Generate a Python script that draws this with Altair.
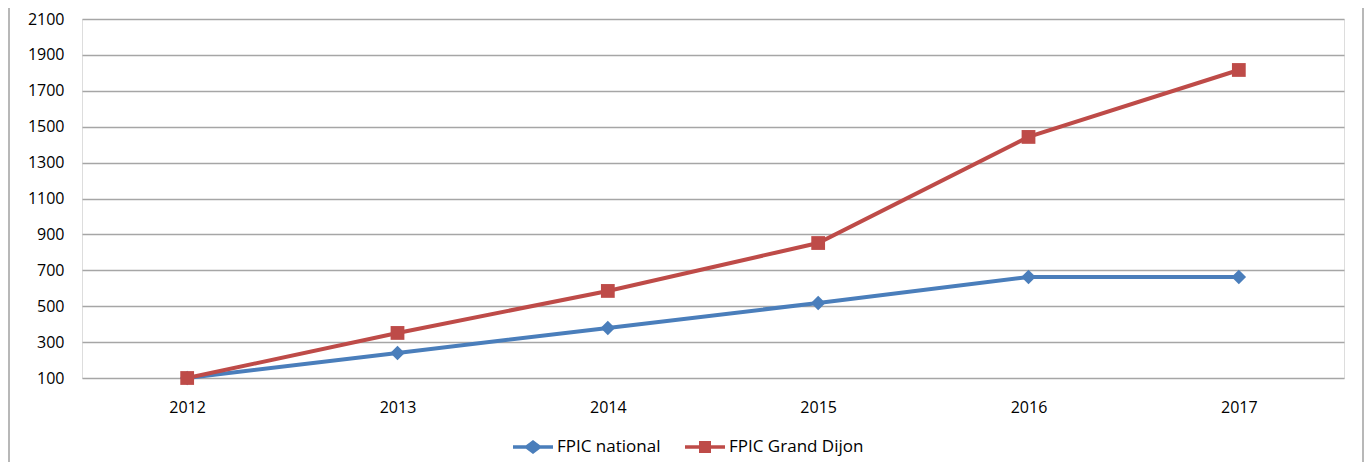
import altair as alt
import pandas as pd

years = ["2012", "2013", "2014", "2015", "2016", "2017"]
national = [100, 239, 379, 518, 663, 663]
grand_dijon = [100, 351, 585, 852, 1443, 1816]
series_names = ["FPIC national", "FPIC Grand Dijon"]
y_ticks = [100, 300, 500, 700, 900, 1100, 1300, 1500, 1700, 1900, 2100]
colors = ["#4A7EBB", "#BE4B48"]

rows = []
for y, v in zip(years, national):
    rows.append({"year": y, "value": v, "series": series_names[0]})
for y, v in zip(years, grand_dijon):
    rows.append({"year": y, "value": v, "series": series_names[1]})
df = pd.DataFrame(rows)

FONT = "Open Sans"
FS = 16
W, H = 1262, 359

x_enc = alt.X("year:O", sort=years, scale=alt.Scale(padding=0.5),
              axis=alt.Axis(title=None, labelAngle=0, domain=False, ticks=False,
                            labelPadding=21, labelFontSize=FS, labelFont=FONT,
                            labelColor="#000000"))
y_enc = alt.Y("value:Q", scale=alt.Scale(domain=[100, 2100], nice=False, zero=False),
              axis=alt.Axis(title=None, values=y_ticks, format="d", domain=False, ticks=False,
                            grid=True, gridColor="#A6A6A6", gridWidth=1.5,
                            labelPadding=18, labelFontSize=FS, labelFont=FONT,
                            labelColor="#000000"))

path_nat = "M-1,-0.09 L-0.35,-0.09 L0,-0.35 L0.35,-0.09 L1,-0.09 L1,0.09 L0.35,0.09 L0,0.35 L-0.35,0.09 L-1,0.09 Z"
path_gd = "M-1,-0.09 L-0.3,-0.09 L-0.3,-0.3 L0.3,-0.3 L0.3,-0.09 L1,-0.09 L1,0.09 L0.3,0.09 L0.3,0.3 L-0.3,0.3 L-0.3,0.09 L-1,0.09 Z"

def cscale():
    return alt.Scale(domain=series_names, range=colors)

lines = alt.Chart(df).mark_line(strokeWidth=4).encode(
    x=x_enc, y=y_enc,
    color=alt.Color("series:N", scale=cscale(), legend=None),
)

points = alt.Chart(df).transform_calculate(
    shp="datum.series == 'FPIC national' ? 'diamond' : 'square'",
    sz="datum.series == 'FPIC national' ? 210 : 190",
).mark_point(filled=True, opacity=1).encode(
    x=x_enc, y=y_enc,
    color=alt.Color("series:N", scale=cscale(), legend=None),
    shape=alt.Shape("shp:N", scale=None),
    size=alt.Size("sz:Q", scale=None),
)

leg = alt.Legend(
    title=None, orient="none", legendX=431, legendY=408,
    direction="horizontal", labelFont=FONT, labelFontSize=17,
    labelColor="#000000", symbolSize=1600, symbolStrokeWidth=0,
    labelOffset=4, columnPadding=24, padding=0)

legend_layer = alt.Chart(df).transform_filter("false").mark_point(filled=True, opacity=1).encode(
    x=x_enc, y=y_enc,
    color=alt.Color("series:N", scale=cscale(), legend=leg),
    shape=alt.Shape("series:N", scale=alt.Scale(domain=series_names, range=[path_nat, path_gd]),
                    legend=leg),
)

border_df = pd.DataFrame({"side": ["left", "right"]})
border_l = alt.Chart(border_df).mark_rule(color="#A0A0A0", strokeWidth=1.5).transform_filter(
    "datum.side == 'left'").encode(x=alt.value(-73), y=alt.value(-19), y2=alt.value(470))
border_r = alt.Chart(border_df).mark_rule(color="#A0A0A0", strokeWidth=1.5).transform_filter(
    "datum.side == 'right'").encode(x=alt.value(1281), y=alt.value(-19), y2=alt.value(470))

chart = alt.layer(lines, points, legend_layer, border_l, border_r).resolve_scale(
    color="independent", shape="independent"
).resolve_legend(color="independent", shape="independent").properties(
    width=W, height=H,
    autosize=alt.AutoSizeParams(type="none"),
    padding={"left": 74, "top": 11, "right": 20, "bottom": 84},
).configure_view(stroke=None).configure(background="white")

chart.save("out.html", embed_options={"renderer": "svg", "actions": False})
